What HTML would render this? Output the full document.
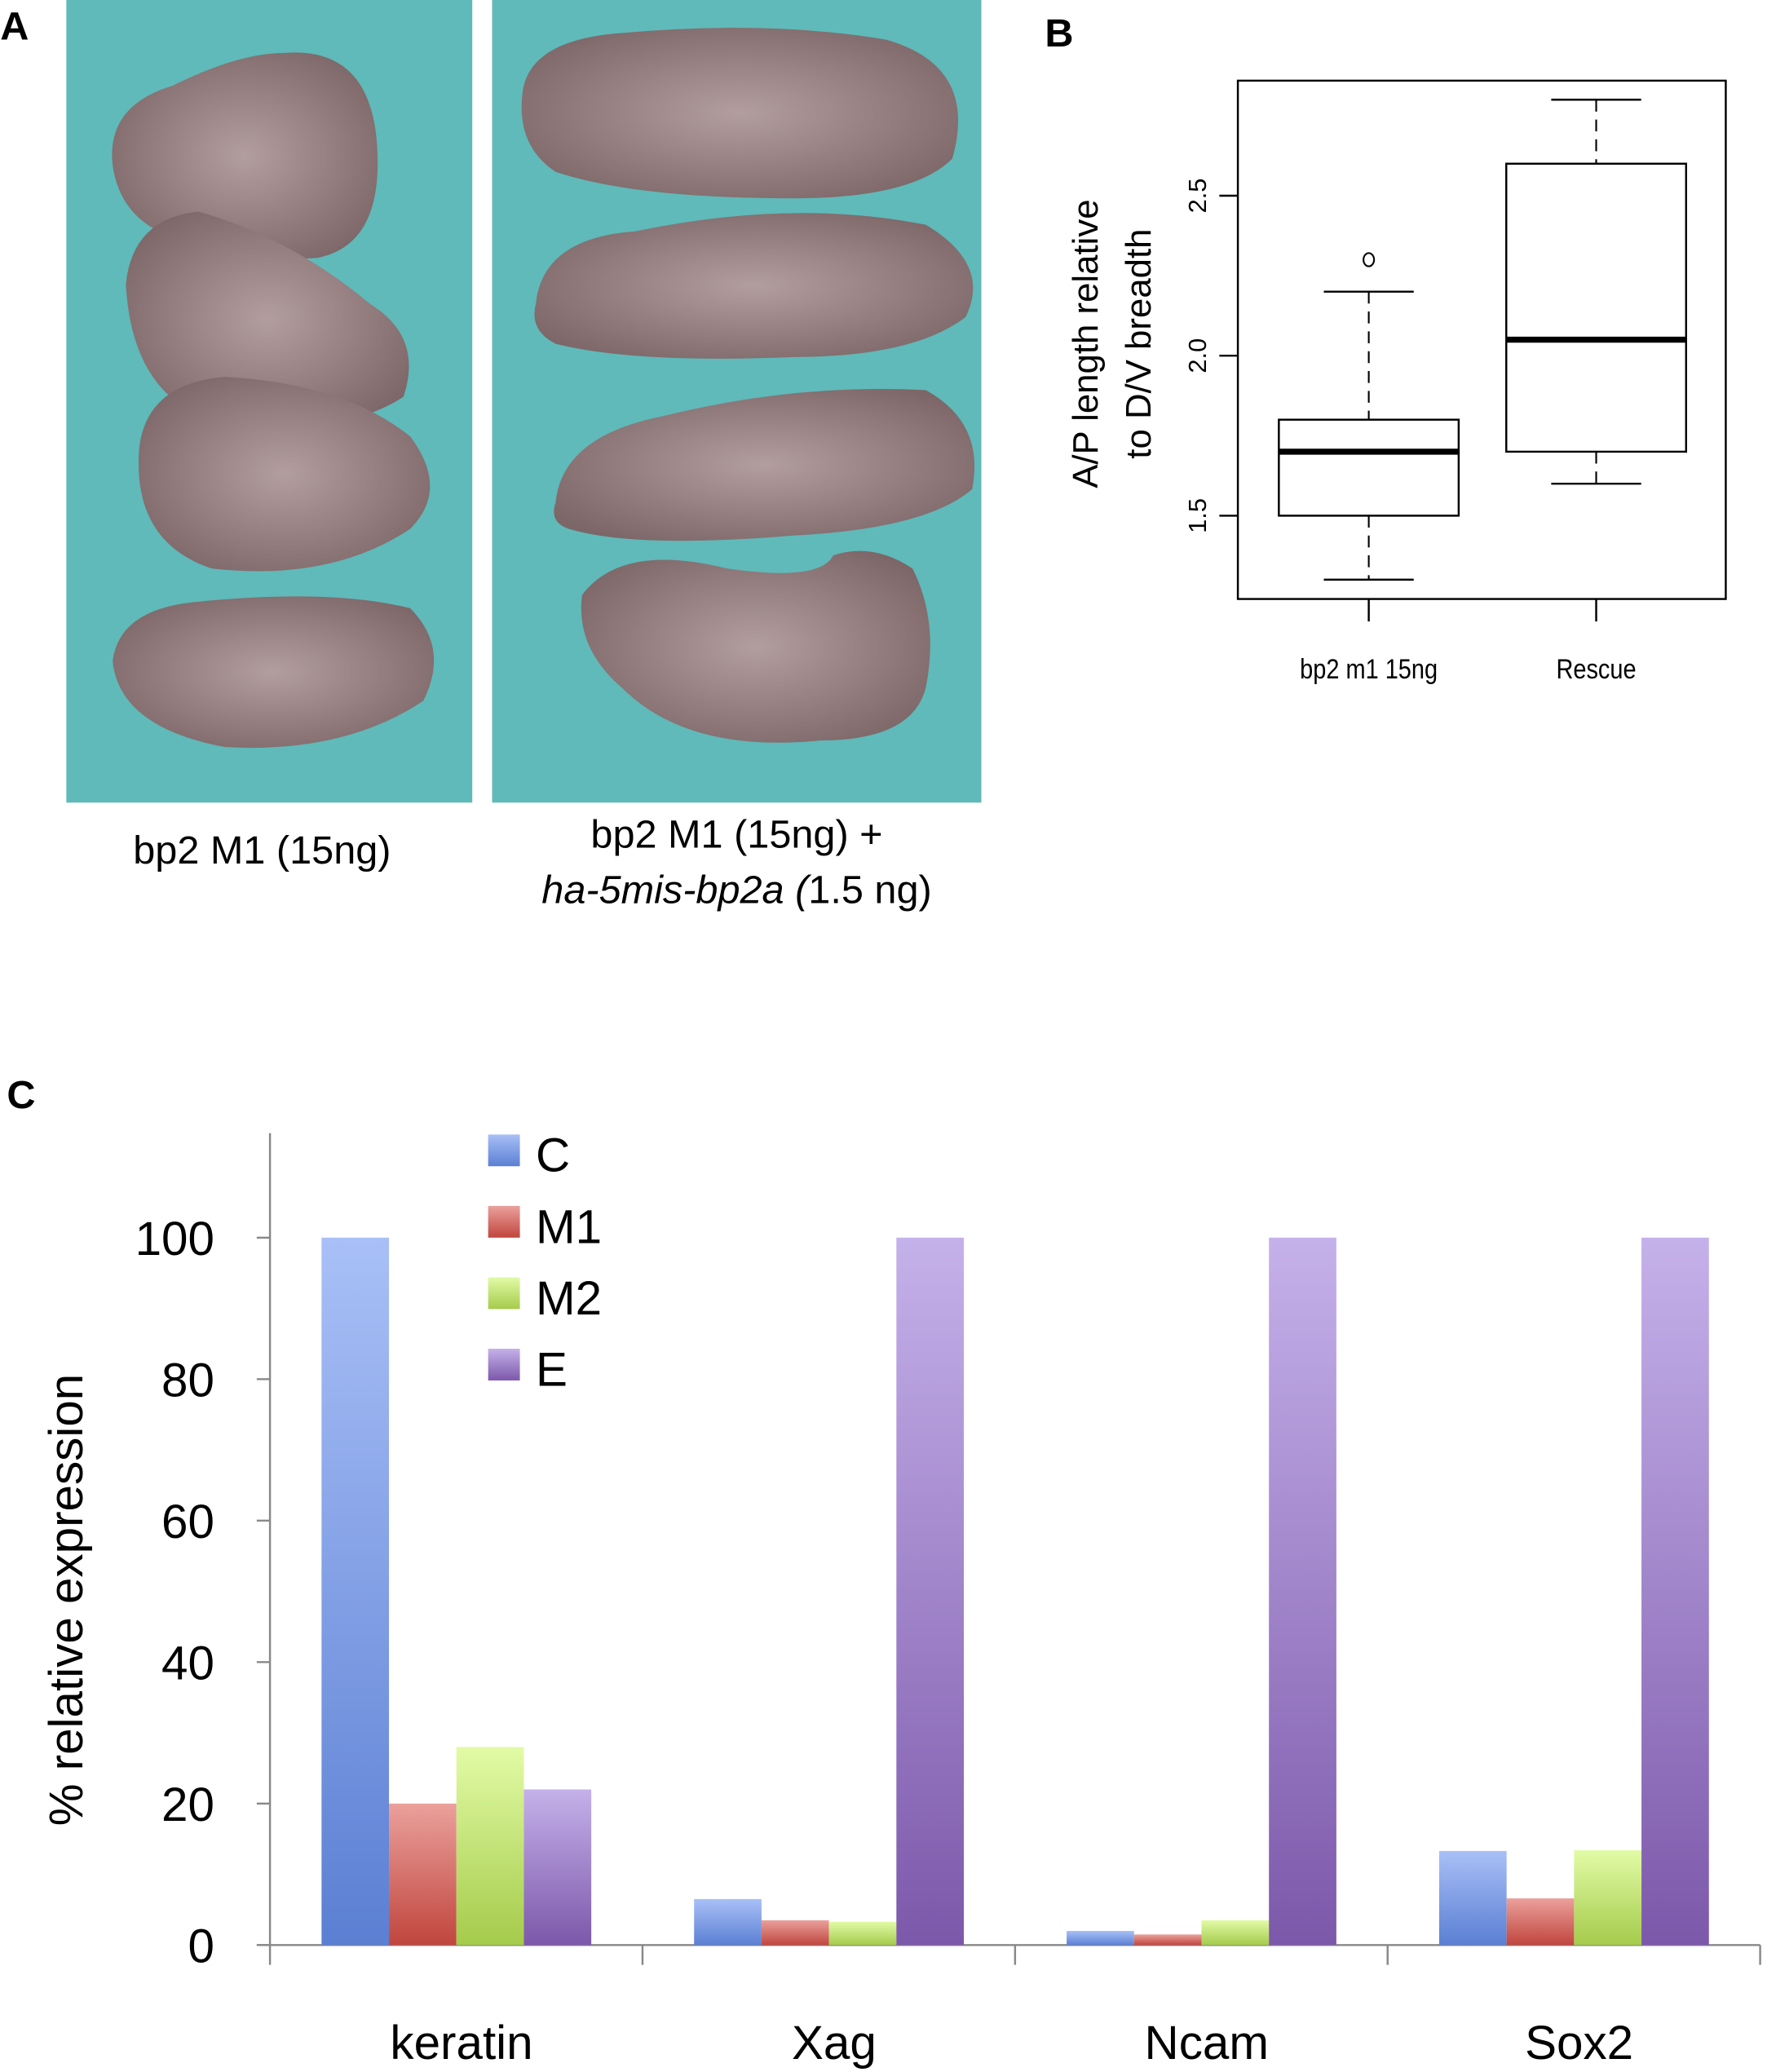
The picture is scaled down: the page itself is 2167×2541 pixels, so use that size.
<!DOCTYPE html>
<html><head><meta charset="utf-8"><style>
html,body{margin:0;padding:0;background:#fff;}
svg{display:block;font-family:"Liberation Sans",sans-serif;}
</style></head><body>
<svg id="fig" width="2167" height="2541" viewBox="0 0 1336 1567" xmlns="http://www.w3.org/2000/svg">
<defs>
<linearGradient id="gC" x1="0" y1="0" x2="0" y2="1"><stop offset="0" stop-color="#a9c0f7"/><stop offset="1" stop-color="#5b7fd3"/></linearGradient>
<linearGradient id="gM1" x1="0" y1="0" x2="0" y2="1"><stop offset="0" stop-color="#eba09c"/><stop offset="1" stop-color="#c0463e"/></linearGradient>
<linearGradient id="gM2" x1="0" y1="0" x2="0" y2="1"><stop offset="0" stop-color="#e2fba6"/><stop offset="1" stop-color="#a5cb4b"/></linearGradient>
<linearGradient id="gE" x1="0" y1="0" x2="0" y2="1"><stop offset="0" stop-color="#c5b1ea"/><stop offset="1" stop-color="#7c58aa"/></linearGradient>
<radialGradient id="emb" cx="0.5" cy="0.5" r="0.6"><stop offset="0" stop-color="#b29d9f"/><stop offset="1" stop-color="#7d6668"/></radialGradient>
</defs>

<!-- Panel A -->
<text x="0" y="30" font-size="30" font-weight="bold">A</text>
<g>
<rect x="50" y="0" width="307" height="607" fill="#5fbab9"/>
<path d="M85 125 Q80 80 130 65 Q180 40 215 40 Q280 35 285 110 Q290 185 240 195 Q170 200 120 175 Q90 160 85 125Z" fill="url(#emb)"/>
<path d="M95 215 Q100 165 150 160 Q220 180 280 230 Q320 255 305 300 Q260 330 170 320 Q100 305 95 215Z" fill="url(#emb)"/>
<path d="M105 340 Q110 290 170 285 Q260 290 310 330 Q340 370 310 400 Q250 440 160 430 Q100 410 105 340Z" fill="url(#emb)"/>
<path d="M85 500 Q90 460 150 455 Q250 445 310 460 Q340 490 320 530 Q260 570 170 565 Q90 550 85 500Z" fill="url(#emb)"/>
</g>
<g>
<rect x="372" y="0" width="370" height="607" fill="#5fbab9"/>
<path d="M395 70 Q400 30 470 25 Q580 15 670 30 Q740 50 720 120 Q690 150 600 150 Q480 150 420 130 Q390 110 395 70Z" fill="url(#emb)"/>
<path d="M405 230 Q410 180 480 175 Q600 150 700 170 Q750 200 730 240 Q690 270 600 270 Q480 275 420 260 Q400 250 405 230Z" fill="url(#emb)"/>
<path d="M420 380 Q425 330 500 315 Q600 290 700 295 Q745 320 735 370 Q700 400 600 405 Q480 415 430 400 Q415 395 420 380Z" fill="url(#emb)"/>
<path d="M440 450 Q470 410 550 430 Q620 440 630 420 Q660 410 690 430 Q710 470 700 520 Q690 560 620 560 Q520 570 470 520 Q435 490 440 450Z" fill="url(#emb)"/>
</g>
<text x="198" y="653" font-size="30" text-anchor="middle">bp2 M1 (15ng)</text>
<text x="557" y="641" font-size="30" text-anchor="middle">bp2 M1 (15ng) +</text>
<text x="557" y="683" font-size="30" text-anchor="middle"><tspan font-style="italic">ha-5mis-bp2a (</tspan>1.5 ng)</text>

<!-- Panel B -->
<text x="790" y="35" font-size="30" font-weight="bold">B</text>
<g id="boxplot"></g>

<!-- Panel C -->
<text x="5" y="838" font-size="30" font-weight="bold">C</text>
<g id="barchart"></g>
</svg>
<script>
const boxGroups = ["bp2 m1 15ng", "Rescue"];
const boxMin = [1.3, 1.6];
const boxQ1 = [1.5, 1.7];
const boxMedian = [1.7, 2.05];
const boxQ3 = [1.8, 2.6];
const boxMax = [2.2, 2.8];
const boxOutliers = [[2.3], []];
const boxTicks = [1.5, 2.0, 2.5];

const barCategories = ["keratin", "Xag", "Ncam", "Sox2"];
const seriesNames = ["C", "M1", "M2", "E"];
const seriesC = [100, 6.5, 2, 13.3];
const seriesM1 = [20, 3.5, 1.5, 6.6];
const seriesM2 = [28, 3.3, 3.5, 13.4];
const seriesE = [22, 100, 100, 100];
const barTicks = [0, 20, 40, 60, 80, 100];

const NS = "http://www.w3.org/2000/svg";
function mk(tag, attrs, parent, text) {
  const e = document.createElementNS(NS, tag);
  for (const k in attrs) e.setAttribute(k, attrs[k]);
  if (text !== undefined) e.textContent = text;
  parent.appendChild(e);
  return e;
}

// Box plot
(function () {
  const g = document.getElementById('boxplot');
  const L = 936, R = 1305, T = 61, B = 453;
  const yS = v => 390 - (v - 1.5) * 242;
  const xS = i => 1035 + i * 172;
  const f = mk('rect', {x: L, y: T, width: R - L, height: B - T, fill: 'none', stroke: '#000', 'stroke-width': 1.5}, g);
  
  
  boxTicks.forEach(t => {
    const y = yS(t);
    const l = mk('line', {x1: L - 14, x2: L, y1: y, y2: y, stroke: '#000', 'stroke-width': 1.5}, g);
    
    
    const tx = mk('text', {x: 912, y: y, 'font-size': 19, 'text-anchor': 'middle', transform: `rotate(-90 912 ${y})`}, g, t.toFixed(1));
    
    
  });
  const yt = mk('text', {x: 0, y: 0, 'font-size': 27, 'text-anchor': 'middle', transform: 'translate(830 260) rotate(-90)'}, g);
  
  
  mk('tspan', {x: 0, dy: 0}, yt, 'A/P length relative');
  mk('tspan', {x: 0, dy: 40}, yt, 'to D/V breadth');
  boxGroups.forEach((name, i) => {
    const cx = xS(i), hw = 68, ww = 34;
    const bx = mk('g', {}, g);
    
    
    mk('line', {x1: cx, x2: cx, y1: yS(boxMax[i]), y2: yS(boxQ3[i]), stroke: '#000', 'stroke-width': 1.3, 'stroke-dasharray': '9 6'}, bx);
    mk('line', {x1: cx, x2: cx, y1: yS(boxQ1[i]), y2: yS(boxMin[i]), stroke: '#000', 'stroke-width': 1.3, 'stroke-dasharray': '9 6'}, bx);
    mk('line', {x1: cx - ww, x2: cx + ww, y1: yS(boxMax[i]), y2: yS(boxMax[i]), stroke: '#000', 'stroke-width': 1.5}, bx);
    mk('line', {x1: cx - ww, x2: cx + ww, y1: yS(boxMin[i]), y2: yS(boxMin[i]), stroke: '#000', 'stroke-width': 1.5}, bx);
    mk('rect', {x: cx - hw, y: yS(boxQ3[i]), width: hw * 2, height: yS(boxQ1[i]) - yS(boxQ3[i]), fill: '#fff', stroke: '#000', 'stroke-width': 1.5}, bx);
    mk('line', {x1: cx - hw, x2: cx + hw, y1: yS(boxMedian[i]), y2: yS(boxMedian[i]), stroke: '#000', 'stroke-width': 4.5}, bx);
    boxOutliers[i].forEach(o => {
      const c = mk('ellipse', {cx: cx, cy: yS(o), rx: 4, ry: 5, fill: 'none', stroke: '#000', 'stroke-width': 1.3}, g);
      
      
    });
    mk('line', {x1: cx, x2: cx, y1: B, y2: B + 17, stroke: '#000', 'stroke-width': 1.5}, g);
    const lb = mk('text', {x: cx, y: 513, 'font-size': 21, 'text-anchor': 'middle', transform: `translate(${cx} 0) scale(0.85 1) translate(${-cx} 0)`}, g, name);
    
    
  });
})();

// Bar chart
(function () {
  const g = document.getElementById('barchart');
  const X0 = 204, XR = 1331, Y0 = 1471, TOP = 857;
  const yS = v => Y0 - v * 5.35;
  const gw = (XR - X0) / barCategories.length;
  const bw = 51;
  const series = [seriesC, seriesM1, seriesM2, seriesE];
  const grads = ['gC', 'gM1', 'gM2', 'gE'];
  const ax = mk('line', {x1: X0, x2: X0, y1: TOP, y2: Y0, stroke: '#888', 'stroke-width': 1.5}, g);
  
  
  const xa = mk('line', {x1: X0 - 10, x2: XR, y1: Y0, y2: Y0, stroke: '#888', 'stroke-width': 1.5}, g);
  
  
  barTicks.forEach(t => {
    const y = yS(t);
    mk('line', {x1: X0 - 10, x2: X0, y1: y, y2: y, stroke: '#888', 'stroke-width': 1.5}, g);
    const tx = mk('text', {x: 162, y: y + 13, 'font-size': 36, 'text-anchor': 'end'}, g, String(t));
    
    
  });
  for (let i = 0; i <= barCategories.length; i++) {
    mk('line', {x1: X0 + i * gw, x2: X0 + i * gw, y1: Y0, y2: Y0 + 15, stroke: '#888', 'stroke-width': 1.5}, g);
  }
  const yt = mk('text', {x: 0, y: 0, 'font-size': 36, 'text-anchor': 'middle', transform: 'translate(62 1210) rotate(-90)'}, g, '% relative expression');
  
  
  barCategories.forEach((cat, ci) => {
    const gx = X0 + ci * gw + 39;
    series.forEach((s, si) => {
      const r = mk('rect', {x: gx + si * bw, y: yS(s[ci]), width: bw, height: Y0 - yS(s[ci]), fill: `url(#${grads[si]})`}, g);
      
      
    });
    const lb = mk('text', {x: X0 + ci * gw + gw / 2 + 4, y: 1557, 'font-size': 36, 'text-anchor': 'middle'}, g, cat);
    
    
  });
  seriesNames.forEach((n, si) => {
    const y = 858 + si * 54;
    const le = mk('g', {}, g);
    
    
    mk('rect', {x: 369, y: y, width: 24, height: 24, fill: `url(#${grads[si]})`}, le);
    mk('text', {x: 405, y: y + 28, 'font-size': 36}, le, n);
  });
})();
</script>
</body></html>
